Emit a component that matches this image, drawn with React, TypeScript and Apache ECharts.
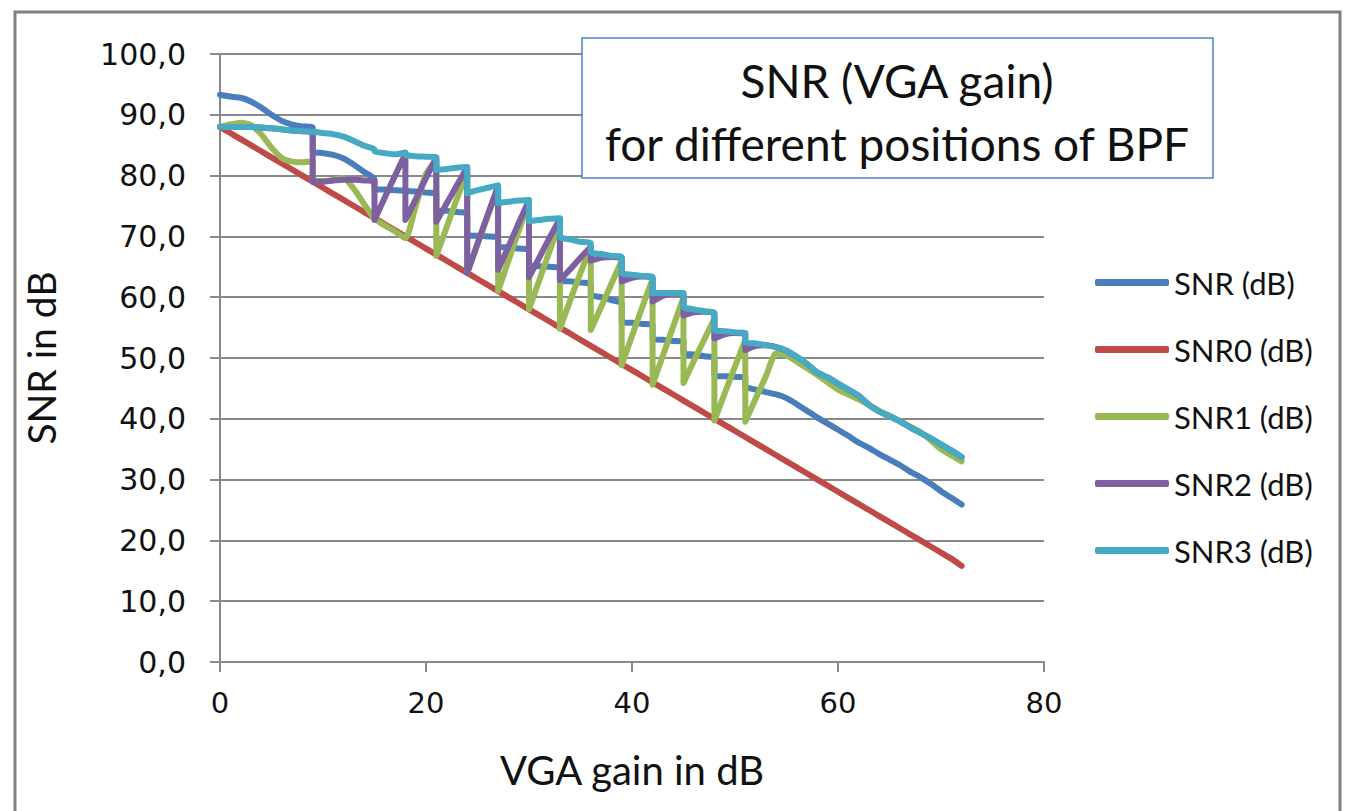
import React, { useEffect, useRef } from "react";
import * as echarts from "echarts";

// VGA gain (dB); step points appear twice (value before / after the switch)
const X = [
  0, 1, 2, 3, 4, 5, 6, 7, 8,
  9, 9, 10, 11,
  12, 12, 13, 14,
  15, 15, 16, 17,
  18, 18, 19, 20,
  21, 21, 22, 23,
  24, 24, 25, 26,
  27, 27, 28, 29,
  30, 30, 31, 32,
  33, 33, 34, 35,
  36, 36, 37, 38,
  39, 39, 40, 41,
  42, 42, 43, 44,
  45, 45, 46, 47,
  48, 48, 49, 50,
  51, 51, 52, 53,
  54, 54,
  55, 56, 57, 58, 59, 60, 61, 62, 63, 64, 65, 66, 67, 68, 69, 70, 71, 72,
];

const SNR = [
  93.3, 93.0, 92.8, 92.2, 91.2, 90.0, 89.0, 88.4, 88.1,
  87.9, 84.0, 83.7, 83.4,
  82.8, 82.8, 81.8, 80.6,
  79.4, 77.8, 77.7, 77.6,
  77.5, 77.5, 77.4, 77.2,
  77.0, 74.3, 74.2, 74.0,
  73.8, 70.3, 70.1, 70.0,
  69.8, 68.3, 68.2, 68.0,
  67.8, 65.3, 65.1, 65.0,
  64.8, 62.8, 62.6, 62.4,
  62.2, 60.4, 60.0, 59.5,
  59.0, 55.9, 55.8, 55.6,
  55.4, 53.2, 53.0, 52.8,
  52.6, 50.8, 50.6, 50.3,
  50.0, 47.1, 47.0, 46.9,
  46.8, 45.3, 44.8, 44.4,
  44.0, 44.0,
  43.4, 42.4, 41.3, 40.2, 39.2, 38.2, 37.2, 36.1, 35.2, 34.2, 33.3, 32.4, 31.3, 30.4, 29.3, 28.1, 27.0, 25.9,
];

const SNR0 = [
  88, 87, 86, 85, 84, 83, 82, 81, 80,
  79, 79, 78, 77,
  76, 76, 75, 74,
  73, 73, 72, 71,
  70, 70, 69, 68,
  67, 67, 66, 65,
  64, 64, 63, 62,
  61, 61, 60, 59,
  58, 58, 57, 56,
  55, 55, 54, 53,
  52, 52, 51, 50,
  49, 49, 48, 47,
  46, 46, 45, 44,
  43, 43, 42, 41,
  40, 40, 39, 38,
  37, 37, 36, 35,
  34, 34,
  33, 32, 31, 30, 29, 28, 27, 26, 25, 24, 23, 22, 21, 20, 19, 18, 17, 15.8,
];

const SNR1 = [
  88.0, 88.4, 88.7, 88.3, 86.8, 84.6, 82.9, 82.3, 82.2,
  82.3, 79.3, 79.1, 79.3,
  79.6, 79.6, 77.8, 75.3,
  72.9, 72.9, 71.8, 70.8,
  69.7, 69.7, 75.0, 80.3,
  82.6, 66.8, 71.5, 76.2,
  80.6, 64.0, 68.7, 73.4,
  78.0, 61.0, 66.0, 70.9,
  75.7, 58.0, 62.8, 67.6,
  72.4, 54.8, 59.5, 64.0,
  68.4, 54.6, 58.4, 62.2,
  66.0, 48.8, 53.6, 58.4,
  63.0, 45.6, 50.4, 55.2,
  60.0, 45.9, 49.5, 53.0,
  56.5, 39.7, 44.2, 48.6,
  53.0, 39.5, 43.3, 47.0,
  50.8, 50.8,
  50.4, 49.4, 48.3, 47.2, 46.0, 44.8, 44.0, 43.2, 42.3, 41.3, 40.5, 39.6, 38.7, 37.8, 36.5, 35.0, 34.0, 33.0,
];

const SNR2 = [
  88.0, 88.0, 88.0, 88.0, 87.9, 87.8, 87.6, 87.4, 87.3,
  87.2, 79.0, 79.0, 79.2,
  79.3, 79.3, 79.3, 79.2,
  79.1, 72.7, 76.4, 80.0,
  83.6, 72.7, 76.1, 79.6,
  83.0, 72.4, 75.4, 78.4,
  81.4, 64.0, 68.8, 73.6,
  78.3, 64.5, 68.3, 72.2,
  75.9, 63.3, 66.5, 69.8,
  72.9, 62.8, 64.6, 66.5,
  68.3, 66.0, 66.5, 66.6,
  66.5, 62.6, 63.2, 63.4,
  63.2, 59.3, 60.2, 60.6,
  60.6, 57.0, 57.5, 57.6,
  57.3, 53.2, 53.9, 54.1,
  54.0, 51.3, 52.0, 52.1,
  51.8, 51.8,
  51.2, 50.2, 49.0, 47.6, 46.8, 45.8, 44.8, 43.8, 42.3, 41.2, 40.4, 39.6, 38.6, 37.7, 36.8, 35.8, 34.8, 33.7,
];

const SNR3 = [
  88.0, 88.0, 88.0, 88.0, 87.9, 87.8, 87.6, 87.4, 87.3,
  87.2, 87.2, 87.0, 86.8,
  86.4, 86.4, 85.7, 84.9,
  84.3, 84.0, 83.7, 83.5,
  83.8, 83.4, 83.2, 83.1,
  83.0, 80.9, 81.1, 81.3,
  81.4, 77.1, 77.6, 78.0,
  78.4, 75.5, 75.7, 75.9,
  76.0, 72.5, 72.7, 72.9,
  73.0, 69.9, 69.5, 69.1,
  68.9, 67.4, 67.1, 66.8,
  66.6, 64.0, 63.7, 63.5,
  63.3, 60.7, 60.7, 60.7,
  60.7, 58.4, 58.0, 57.7,
  57.4, 54.6, 54.4, 54.2,
  54.1, 52.6, 52.4, 52.1,
  51.8, 51.8,
  51.2, 50.2, 49.0, 47.6, 46.8, 45.8, 44.8, 43.8, 42.3, 41.2, 40.4, 39.6, 38.6, 37.7, 36.8, 35.8, 34.8, 33.7,
];

const SERIES_NAMES = ["SNR (dB)", "SNR0 (dB)", "SNR1 (dB)", "SNR2 (dB)", "SNR3 (dB)"];
const SERIES_VALUES = [SNR, SNR0, SNR1, SNR2, SNR3];
const COLORS = ["#4A7EBB", "#BE4B48", "#98B954", "#7D60A0", "#46AAC5"];
const TITLE_LINES = ["SNR (VGA gain)", "for different positions of BPF"];

export default function App() {
  const ref = useRef<HTMLDivElement>(null);

  useEffect(() => {
    if (!ref.current) return;
    const chart = echarts.init(ref.current, null, { renderer: "svg" });
    const gridColor = "#898989";
    const labelFont = "DejaVu Sans, Verdana, sans-serif";
    const textFont = "Lato, 'Open Sans', sans-serif";

    chart.setOption({
      animation: false,
      backgroundColor: "#ffffff",
      grid: { left: 220, top: 54, width: 824, height: 608, containLabel: false },
      xAxis: {
        type: "value",
        min: 0,
        max: 80,
        interval: 20,
        axisLine: { show: true, lineStyle: { color: gridColor, width: 2 } },
        axisTick: { show: true, length: 10, lineStyle: { color: gridColor, width: 2 } },
        axisLabel: { fontSize: 29, color: "#111", margin: 26, fontFamily: labelFont },
        splitLine: { show: false },
        name: "VGA gain in dB",
        nameLocation: "middle",
        nameGap: 88,
        nameTextStyle: { fontSize: 40, color: "#111", fontFamily: textFont },
      },
      yAxis: {
        type: "value",
        min: 0,
        max: 100,
        interval: 10,
        axisLine: { show: true, lineStyle: { color: gridColor, width: 2 } },
        axisTick: { show: true, length: 10, lineStyle: { color: gridColor, width: 2 } },
        axisLabel: {
          fontSize: 30,
          color: "#111",
          margin: 34,
          fontFamily: labelFont,
          formatter: (v: number) => v.toFixed(1).replace(".", ","),
        },
        splitLine: { show: true, lineStyle: { color: gridColor, width: 2 } },
        name: "SNR in dB",
        nameLocation: "middle",
        nameGap: 160,
        nameRotate: 90,
        nameTextStyle: { fontSize: 39, color: "#111", fontFamily: textFont },
      },
      legend: {
        orient: "vertical",
        left: 1090,
        top: 262,
        itemWidth: 74,
        itemHeight: 7,
        itemGap: 36,
        icon: "roundRect",
        data: SERIES_NAMES,
        textStyle: { fontSize: 31, color: "#111", fontFamily: textFont },
      },
      graphic: [
        {
          type: "rect",
          shape: { x: 15, y: 12, width: 1325, height: 840 },
          style: { fill: "none", stroke: "#808080", lineWidth: 3 },
          silent: true,
        },
        {
          type: "rect",
          shape: { x: 582, y: 38, width: 631, height: 140 },
          style: { fill: "#ffffff", stroke: "#4F81BD", lineWidth: 1.5 },
          z: 10,
        },
        {
          type: "text",
          x: 897,
          y: 80,
          z: 11,
          style: {
            text: TITLE_LINES[0],
            fontSize: 46,
            fontFamily: textFont,
            fill: "#111",
            align: "center",
            verticalAlign: "middle",
          },
        },
        {
          type: "text",
          x: 897,
          y: 143,
          z: 11,
          style: {
            text: TITLE_LINES[1],
            fontSize: 46,
            fontFamily: textFont,
            fill: "#111",
            align: "center",
            verticalAlign: "middle",
          },
        },
      ],
      series: SERIES_NAMES.map((name, s) => ({
        name,
        type: "line",
        data: X.map((x, i) => [x, SERIES_VALUES[s][i]]),
        showSymbol: false,
        symbol: "none",
        smooth: 0.2,
        color: COLORS[s],
        lineStyle: { width: 6, color: COLORS[s], cap: "round", join: "round" },
        z: 2 + s,
      })),
    });

    return () => chart.dispose();
  }, []);

  return (
    <div
      ref={ref}
      style={{ position: "fixed", left: 0, top: 0, width: 1349, height: 811 }}
    />
  );
}
